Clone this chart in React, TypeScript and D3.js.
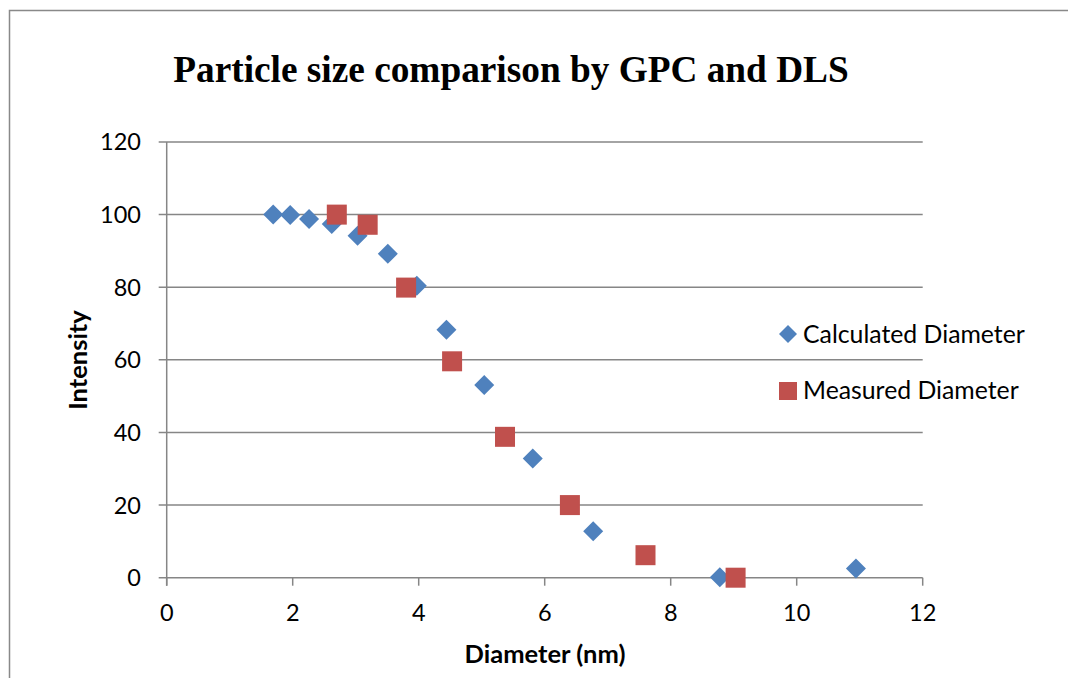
import React from "react";
import * as d3 from "d3";

const calcX = [1.69, 1.96, 2.26, 2.62, 3.03, 3.51, 3.97, 4.44, 5.04, 5.81, 6.77, 8.78, 10.94];
const calcY = [100, 99.9, 98.8, 97.4, 94.2, 89.2, 80.4, 68.3, 53.1, 32.8, 12.8, 0.1, 2.5];
const measX = [2.70, 3.19, 3.80, 4.53, 5.37, 6.40, 7.60, 9.03];
const measY = [100, 97.2, 79.9, 59.6, 38.8, 20.0, 6.2, 0];
const xTicks = [0, 2, 4, 6, 8, 10, 12];
const yTicks = [0, 20, 40, 60, 80, 100, 120];
const seriesNames = ["Calculated Diameter", "Measured Diameter"];
const title = "Particle size comparison by GPC and DLS";

const W = 1068;
const H = 678;
const BLUE = "#4F81BD";
const RED = "#C0504D";
const GRID = "#868686";
const FONT = "Lato, 'Open Sans', sans-serif";

export default function App() {
  const x = d3.scaleLinear().domain([0, 12]).range([166.7, 922.7]);
  const y = d3.scaleLinear().domain([0, 120]).range([577.7, 142]);
  const diamond = (cx: number, cy: number, r: number) =>
    `M${cx},${cy - r}L${cx + r},${cy}L${cx},${cy + r}L${cx - r},${cy}Z`;
  const calc = calcX.map((v, i) => ({ x: v, y: calcY[i] }));
  const meas = measX.map((v, i) => ({ x: v, y: measY[i] }));
  return (
    <svg width={W} height={H} style={{ position: "absolute", left: 0, top: 0, background: "#fff" }}>
      <rect x={9.5} y={10.5} width={W + 20} height={H + 20} fill="#fff" stroke="#898989" strokeWidth={1.5} />
      <text x={511} y={82} textAnchor="middle" fontFamily="'Liberation Serif', 'Times New Roman', serif" fontWeight="bold" fontSize={37.3}>
        {title}
      </text>
      {yTicks.map((t) => (
        <g key={"y" + t}>
          <line x1={x(0) - 8} x2={x(12)} y1={y(t)} y2={y(t)} stroke={GRID} strokeWidth={1.5} />
          <text x={141} y={y(t)} dy="0.36em" textAnchor="end" fontFamily={FONT} fontSize={23.5} fill="#000">
            {t}
          </text>
        </g>
      ))}
      <line x1={x(0)} x2={x(0)} y1={y(120)} y2={y(0) + 8} stroke={GRID} strokeWidth={1.5} />
      {xTicks.map((t) => (
        <g key={"x" + t}>
          <line x1={x(t)} x2={x(t)} y1={y(0)} y2={y(0) + 8} stroke={GRID} strokeWidth={1.5} />
          <text x={x(t)} y={621} textAnchor="middle" fontFamily={FONT} fontSize={23.5} fill="#000">
            {t}
          </text>
        </g>
      ))}
      <text x={545} y={663} textAnchor="middle" fontFamily={FONT} fontWeight="bold" fontSize={25.5}>
        Diameter (nm)
      </text>
      <text transform="translate(87,360) rotate(-90)" textAnchor="middle" fontFamily={FONT} fontWeight="bold" fontSize={25.5}>
        Intensity
      </text>
      {calc.map((d, i) => (
        <path key={"c" + i} d={diamond(x(d.x), y(d.y), 10)} fill={BLUE} />
      ))}
      {meas.map((d, i) => (
        <rect key={"m" + i} x={x(d.x) - 10} y={y(d.y) - 10} width={20} height={20} fill={RED} />
      ))}
      <path d={diamond(788, 334, 9)} fill={BLUE} />
      <text x={803} y={343} fontFamily={FONT} fontSize={24.8}>{seriesNames[0]}</text>
      <rect x={779} y={382} width={18} height={18} fill={RED} />
      <text x={803} y={399} fontFamily={FONT} fontSize={24.8}>{seriesNames[1]}</text>
    </svg>
  );
}
